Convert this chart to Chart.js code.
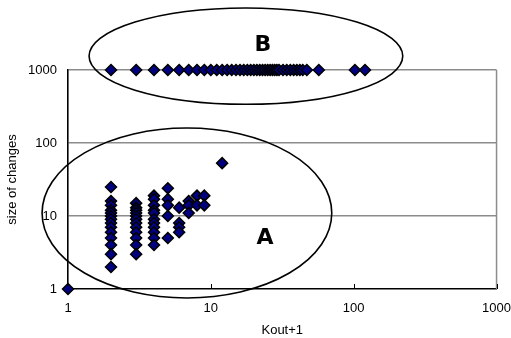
<!DOCTYPE html>
<html>
<head>
<meta charset="utf-8">
<script src="https://cdn.jsdelivr.net/npm/chart.js@4/dist/chart.umd.min.js"></script>
<style>
  html, body { margin: 0; padding: 0; background: #fff; }
  #wrap { width: 511px; height: 338px; }
</style>
</head>
<body>
<div id="wrap"><canvas id="chart"></canvas></div>
<script>
// axis ticks (log scales)
const xTicks = [1, 10, 100, 1000];
const yTicks = [1, 10, 100, 1000];

// group A: small changes, x = Kout+1, y = size of changes
const aX = [1,
  2, 2, 2, 2, 2, 2, 2, 2, 2, 2, 2, 2, 2, 2,
  3, 3, 3, 3, 3, 3, 3, 3, 3, 3, 3, 3,
  4, 4, 4, 4, 4, 4, 4, 4, 4, 4, 4,
  5, 5, 5, 5, 5,
  6, 6, 6, 6,
  7, 7, 7,
  8, 8,
  9, 9,
  12];
const aY = [1,
  25, 16, 14, 12, 11, 10, 9, 8, 7, 6, 5, 4, 3, 2,
  15, 13, 12, 11, 10, 9, 8, 7, 6, 5, 4, 3,
  19, 17, 14, 12, 11, 9, 8, 7, 6, 5, 4,
  24, 17, 14, 10, 5,
  13, 8, 7, 6,
  16, 14, 11,
  19, 14,
  19, 14,
  53];

// group B: size of changes = 1000
const bX = [2, 3, 4, 5, 6, 7, 8, 9, 10, 11, 12, 13, 14, 15, 16, 17, 18, 19, 20,
  21, 22, 23, 24, 25, 26, 27, 28, 29, 30, 32, 34, 36, 38, 40, 42, 44, 47, 57, 102, 120];
const bY = bX.map(() => 1000);

// ellipse annotations: centre in data units, radii in decades
const ellipseNames = ['A', 'B'];
const ellipseCx = [6.8, 17.6];
const ellipseCy = [11, 1550];
const ellipseRx = [1.014, 1.098];
const ellipseRy = [1.164, 0.66];
const labelX = [23.9, 23.1];
const labelY = [5.0, 2200];

const points = aX.map((x, i) => ({ x: x, y: aY[i] }))
  .concat(bX.map((x, i) => ({ x: x, y: bY[i] })));

const annotations = {
  id: 'annotations',
  beforeDatasetsDraw(chart) {
    const { ctx, chartArea } = chart;
    const xs = chart.scales.x;
    ctx.save();
    // right border of plot area
    ctx.strokeStyle = '#8c8c8c';
    ctx.lineWidth = 1.5;
    ctx.beginPath();
    ctx.moveTo(chartArea.right, chartArea.top);
    ctx.lineTo(chartArea.right, chartArea.bottom);
    ctx.stroke();
    // inward tick marks on the x axis
    ctx.strokeStyle = '#000';
    ctx.lineWidth = 1;
    xs.ticks.forEach(t => {
      const px = Math.round(xs.getPixelForValue(t.value)) + 0.5;
      ctx.beginPath();
      ctx.moveTo(px, chartArea.bottom);
      ctx.lineTo(px, chartArea.bottom - 5);
      ctx.stroke();
    });
    ctx.restore();
  },
  afterDatasetsDraw(chart) {
    const { ctx } = chart;
    const xs = chart.scales.x, ys = chart.scales.y;
    const decX = xs.getPixelForValue(10) - xs.getPixelForValue(1);
    const decY = ys.getPixelForValue(1) - ys.getPixelForValue(10);
    ctx.save();
    ctx.strokeStyle = '#000';
    ctx.lineWidth = 1.6;
    ellipseNames.forEach((name, i) => {
      const cx = xs.getPixelForValue(ellipseCx[i]);
      const cy = ys.getPixelForValue(ellipseCy[i]);
      ctx.beginPath();
      ctx.ellipse(cx, cy, ellipseRx[i] * decX, ellipseRy[i] * decY, 0, 0, Math.PI * 2);
      ctx.stroke();
      ctx.fillStyle = '#000';
      ctx.font = 'bold 22px "DejaVu Sans"';
      ctx.textAlign = 'center';
      ctx.textBaseline = 'middle';
      ctx.fillText(name, xs.getPixelForValue(labelX[i]), ys.getPixelForValue(labelY[i]));
    });
    ctx.restore();
  }
};

const tickFont = { family: '"Liberation Sans", Arial, sans-serif', size: 13 };

new Chart(document.getElementById('chart'), {
  type: 'scatter',
  data: {
    datasets: [{
      data: points,
      pointStyle: 'rectRot',
      pointRadius: 5.5,
      pointHoverRadius: 5.5,
      backgroundColor: '#000080',
      borderColor: '#000',
      borderWidth: 1.5,
      clip: false
    }]
  },
  options: {
    responsive: true,
    maintainAspectRatio: false,
    animation: false,
    events: [],
    layout: { padding: { top: 70, right: 0, left: 0, bottom: 0 } },
    plugins: { legend: { display: false }, tooltip: { enabled: false } },
    scales: {
      x: {
        type: 'logarithmic',
        min: 1,
        max: 1000,
        afterBuildTicks: s => { s.ticks = xTicks.map(v => ({ value: v })); },
        afterFit: s => { s.height = 49; },
        grid: {
          display: true, drawOnChartArea: false, drawTicks: true,
          tickLength: 12, tickColor: 'rgba(0,0,0,0)'
        },
        border: { display: true, color: '#000', width: 1.6 },
        ticks: {
          font: tickFont, color: '#000', padding: 0, maxRotation: 0,
          autoSkip: false, callback: v => String(v)
        },
        title: { display: true, text: 'Kout+1', font: tickFont, color: '#000', padding: { top: 0, bottom: 0 } }
      },
      y: {
        type: 'logarithmic',
        min: 1,
        max: 1000,
        afterBuildTicks: s => { s.ticks = yTicks.map(v => ({ value: v })); },
        afterFit: s => { s.width = 68; },
        grid: {
          drawTicks: false,
          lineWidth: 1.5,
          color: c => (c.tick && c.tick.value === 1) ? 'rgba(0,0,0,0)' : '#8c8c8c'
        },
        border: { display: true, color: '#000', width: 1.6 },
        ticks: {
          font: tickFont, color: '#000', padding: 11,
          autoSkip: false, callback: v => String(v)
        },
        title: { display: true, text: 'size of changes', font: tickFont, color: '#000', padding: { top: 5, bottom: 0 } }
      }
    }
  },
  plugins: [annotations]
});
</script>
</body>
</html>
